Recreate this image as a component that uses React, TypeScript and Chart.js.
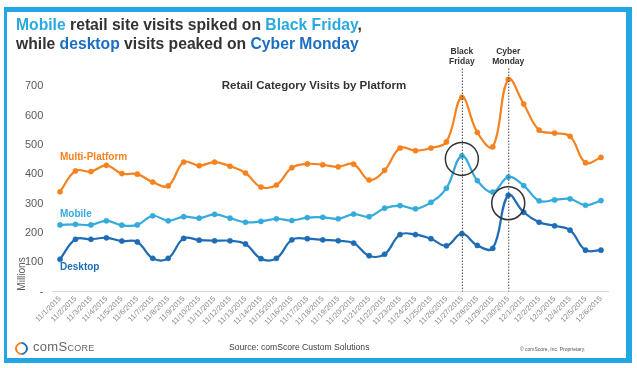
import React, { useEffect, useRef } from "react";
import { Chart, registerables } from "chart.js";

Chart.register(...registerables);

const dates = [
  "11/1/2015", "11/2/2015", "11/3/2015", "11/4/2015", "11/5/2015", "11/6/2015",
  "11/7/2015", "11/8/2015", "11/9/2015", "11/10/2015", "11/11/2015", "11/12/2015",
  "11/13/2015", "11/14/2015", "11/15/2015", "11/16/2015", "11/17/2015", "11/18/2015",
  "11/19/2015", "11/20/2015", "11/21/2015", "11/22/2015", "11/23/2015", "11/24/2015",
  "11/25/2015", "11/26/2015", "11/27/2015", "11/28/2015", "11/29/2015", "11/30/2015",
  "12/1/2015", "12/2/2015", "12/3/2015", "12/4/2015", "12/5/2015", "12/6/2015",
];

const multiPlatform = [
  340, 411, 409, 430, 402, 400, 373, 360, 441, 429, 441, 427, 404, 356, 363, 422, 435, 432,
  425, 434, 380, 413, 489, 480, 489, 510, 662, 542, 493, 723, 639, 550, 540, 529, 439, 457,
];
const mobile = [
  227, 229, 227, 241, 226, 227, 258, 241, 255, 250, 263, 250, 236, 239, 248, 242, 252, 253,
  248, 264, 255, 284, 293, 282, 304, 352, 462, 378, 339, 390, 361, 309, 312, 316, 294, 310,
];
const desktop = [
  110, 178, 178, 183, 172, 169, 113, 113, 181, 175, 173, 173, 162, 112, 113, 176, 180, 176,
  173, 165, 122, 127, 194, 194, 180, 156, 197, 157, 147, 328, 270, 236, 224, 209, 141, 141,
];

const yTicks = [0, 100, 200, 300, 400, 500, 600, 700];

// event markers: category, label lines, circle centre value
const events = [
  { date: "11/27/2015", lines: ["Black", "Friday"], circleValue: 452 },
  { date: "11/30/2015", lines: ["Cyber", "Monday"], circleValue: 301 },
];

const seriesLabels = [
  { text: "Multi-Platform", value: 458, color: "#f5821f" },
  { text: "Mobile", value: 264, color: "#35aadc" },
  { text: "Desktop", value: 83, color: "#1e6cb5" },
];

const FONT = "'Liberation Sans', Arial, sans-serif";

const overlayPlugin = {
  id: "overlay",
  afterDatasetsDraw(chart: any) {
    const { ctx, scales } = chart;
    const x = scales.x;
    const y = scales.y;
    ctx.save();
    events.forEach((ev) => {
      const idx = dates.indexOf(ev.date);
      const px = x.getPixelForValue(idx);
      ctx.beginPath();
      ctx.setLineDash([1.5, 1.5]);
      ctx.strokeStyle = "#444";
      ctx.lineWidth = 1;
      ctx.moveTo(px + 0.5, y.getPixelForValue(760));
      ctx.lineTo(px + 0.5, y.getPixelForValue(0));
      ctx.stroke();
      ctx.setLineDash([]);
      ctx.beginPath();
      ctx.strokeStyle = "#333";
      ctx.lineWidth = 1.5;
      ctx.arc(px, y.getPixelForValue(ev.circleValue), 16.5, 0, Math.PI * 2);
      ctx.stroke();
      ctx.fillStyle = "#333";
      ctx.font = `bold 8.5px ${FONT}`;
      ctx.textAlign = "center";
      ctx.textBaseline = "middle";
      ctx.fillText(ev.lines[0], px, y.getPixelForValue(817));
      ctx.fillText(ev.lines[1], px, y.getPixelForValue(784));
    });
    ctx.textAlign = "left";
    ctx.textBaseline = "middle";
    ctx.font = `bold 10px ${FONT}`;
    seriesLabels.forEach((s) => {
      ctx.fillStyle = s.color;
      ctx.fillText(s.text, x.getPixelForValue(0), y.getPixelForValue(s.value));
    });
    ctx.save();
    ctx.translate(22, 274);
    ctx.rotate(-Math.PI / 2);
    ctx.font = `10px ${FONT}`;
    ctx.fillStyle = "#595959";
    ctx.textAlign = "center";
    ctx.textBaseline = "middle";
    ctx.fillText("Millions", 0, 0);
    ctx.restore();
    ctx.restore();
  },
};

export default function App() {
  const ref = useRef<HTMLCanvasElement>(null);
  useEffect(() => {
    if (!ref.current) return;
    const mk = (label: string, data: number[], color: string) => ({
      label,
      data,
      borderColor: color,
      backgroundColor: color,
      borderWidth: 2.2,
      pointRadius: 2.6,
      pointBorderWidth: 0.5,
      pointHoverRadius: 2.6,
      tension: 0.4,
    });
    const chart = new Chart(ref.current, {
      type: "line",
      data: {
        labels: dates,
        datasets: [
          mk("Multi-Platform", multiPlatform, "#f5821f"),
          mk("Mobile", mobile, "#35aadc"),
          mk("Desktop", desktop, "#1e6cb5"),
        ],
      },
      options: {
        animation: false,
        responsive: false,
        layout: { padding: { top: 56.8, left: 8, right: 28.3, bottom: 0 } },
        plugins: { legend: { display: false }, tooltip: { enabled: false } },
        scales: {
          x: {
            offset: true,
            grid: { display: false, drawTicks: false },
            border: { display: true, color: "#d9d9d9", width: 1 },
            ticks: {
              autoSkip: false,
              minRotation: 45,
              maxRotation: 45,
              padding: 3,
              color: "#8a8a8a",
              font: { family: FONT, size: 7.5 },
            },
            afterFit: (s: any) => {
              s.height = 76.5;
            },
          },
          y: {
            min: 0,
            max: 800,
            grid: { display: false, drawTicks: false },
            border: { display: false },
            afterBuildTicks: (s: any) => {
              s.ticks = yTicks.map((v) => ({ value: v }));
            },
            ticks: {
              padding: 9,
              color: "#595959",
              font: { family: FONT, size: 11 },
              callback: (v: any) => (Number(v) === 0 ? "-" : String(v)),
            },
            afterFit: (s: any) => {
              s.width = 44.3;
            },
          },
        },
      },
      plugins: [overlayPlugin],
    });
    return () => chart.destroy();
  }, []);

  const lb = "#2aa9e0";
  const db = "#1b6ec2";
  return (
    <div
      style={{
        position: "fixed",
        left: 0,
        top: 0,
        width: 637,
        height: 368,
        background: "#fff",
        fontFamily: FONT,
        overflow: "hidden",
      }}
    >
      <div
        style={{
          position: "absolute",
          left: 4,
          top: 7,
          width: 629 - 4 - 6,
          height: 356 - 5 - 5,
          boxSizing: "content-box",
          borderStyle: "solid",
          borderColor: "#23a6e4",
          borderWidth: "5px 6px 5px 3.5px",
        }}
      />
      <canvas
        ref={ref}
        width={637}
        height={368}
        style={{ position: "absolute", left: 0, top: 0 }}
      />
      <div
        style={{
          position: "absolute",
          left: 16,
          top: 15,
          fontSize: 15.7,
          fontWeight: "bold",
          lineHeight: "19px",
          color: "#333",
          whiteSpace: "nowrap",
        }}
      >
        <div>
          <span style={{ color: lb }}>Mobile</span> retail site visits spiked on{" "}
          <span style={{ color: lb }}>Black Friday</span>,
        </div>
        <div>
          while <span style={{ color: db }}>desktop</span> visits peaked on{" "}
          <span style={{ color: db }}>Cyber Monday</span>
        </div>
      </div>
      <div
        style={{
          position: "absolute",
          left: 0,
          width: 628,
          top: 79,
          textAlign: "center",
          fontSize: 11.5,
          fontWeight: "bold",
          color: "#333",
        }}
      >
        Retail Category Visits by Platform
      </div>
      <div
        style={{
          position: "absolute",
          left: 15,
          top: 342,
          width: 9,
          height: 9,
          borderRadius: "50%",
          borderStyle: "solid",
          borderWidth: 2.5,
          borderColor: "#1f6fc0",
          borderLeftColor: "#f5821f",
          borderTopColor: "#f5821f",
          transform: "rotate(-45deg)",
        }}
      />
      <div
        style={{
          position: "absolute",
          left: 33,
          top: 339,
          fontSize: 13,
          color: "#666",
          letterSpacing: 0.3,
        }}
      >
        com<span style={{ fontVariant: "small-caps" }}>Score</span>
      </div>
      <div
        style={{
          position: "absolute",
          left: 229,
          top: 342,
          fontSize: 8.6,
          color: "#404040",
          whiteSpace: "nowrap",
        }}
      >
        Source: comScore Custom Solutions
      </div>
      <div
        style={{
          position: "absolute",
          left: 520,
          top: 346,
          fontSize: 5,
          color: "#555",
          whiteSpace: "nowrap",
        }}
      >
        © comScore, Inc. Proprietary.
      </div>
    </div>
  );
}
